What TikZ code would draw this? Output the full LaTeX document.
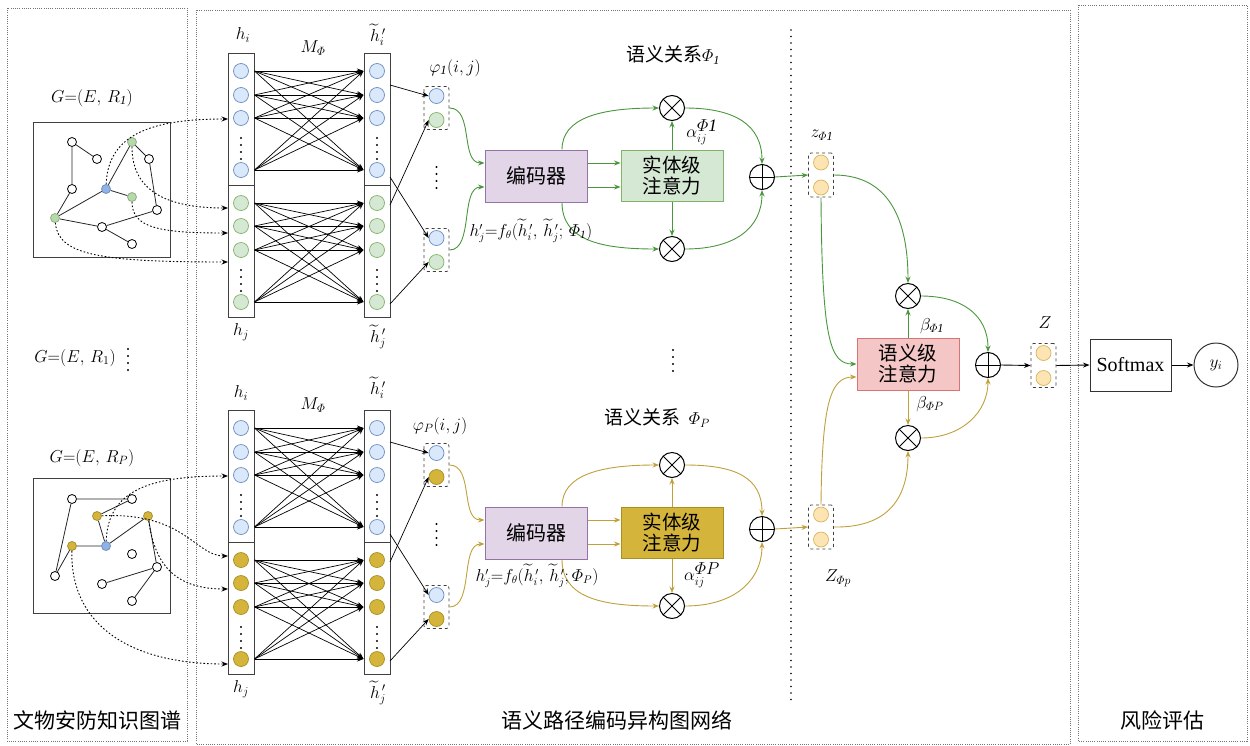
\documentclass[tikz,border=0pt]{standalone}
\usepackage{amsmath}
\usepackage{fontspec}
\setmainfont{Liberation Serif}
\newfontfamily\cjk{Noto Sans CJK SC}
\usetikzlibrary{arrows.meta}
\definecolor{bluF}{HTML}{DAE8FC}
\definecolor{bluB}{HTML}{6C8EBF}
\definecolor{grnF}{HTML}{D5E8D4}
\definecolor{grnB}{HTML}{82B366}
\definecolor{gldF}{HTML}{D4B43A}
\definecolor{gldB}{HTML}{A89020}
\definecolor{grnL}{HTML}{4A963C}
\definecolor{gldL}{HTML}{C0A03A}
\definecolor{ylwF}{HTML}{FCE4B4}
\definecolor{ylwB}{HTML}{D6B656}
\definecolor{purF}{HTML}{E1D5E7}
\definecolor{purB}{HTML}{9673A6}
\definecolor{pnkF}{HTML}{F4C6C6}
\definecolor{pnkB}{HTML}{D97474}
\definecolor{gBlu}{HTML}{8FB3E8}
\definecolor{gGrn}{HTML}{B5D9A8}
\definecolor{gGld}{HTML}{D4B43A}
\tikzset{
  panel/.style={draw=black!55, line width=0.9pt, dash pattern=on 0.9pt off 1.3pt},
  sepdots/.style={line width=1.6pt, dash pattern=on 0pt off 6.5pt, line cap=round},
  circ/.style={circle, minimum size=15pt, inner sep=0pt, line width=0.7pt},
  bnode/.style={circ, fill=bluF, draw=bluB},
  ycirc/.style={circ, fill=ylwF, draw=ylwB},
  colbox/.style={draw=black!75, line width=1pt, minimum width=26pt, inner sep=0pt},
  tip/.style={-{Stealth[length=6.5pt,width=5pt]}},
  narrow/.style={tip, line width=0.7pt},
  darrow/.style={tip, line width=0.9pt, dash pattern=on 1.6pt off 2pt},
  pbox/.style={draw=black!75, dashed, rounded corners=2.5pt, minimum width=25pt, minimum height=43pt, inner sep=0pt, line width=0.8pt},
  gnode/.style={circle, draw=black, line width=0.8pt, minimum size=9pt, inner sep=0pt, fill=white},
  gb/.style={gnode, fill=gBlu, draw=gBlu!80!black},
  gg/.style={gnode, fill=gGrn, draw=gGrn!80!black},
  gy/.style={gnode, fill=gGld, draw=gGld!80!black},
  gedge/.style={line width=0.8pt, draw=black!85},
  gbox/.style={draw=black!75, line width=1pt, minimum width=137pt, minimum height=135pt, inner sep=0pt},
  encbox/.style={draw=purB, fill=purF, line width=1pt, minimum width=102pt, minimum height=52pt, inner sep=0pt, font=\fontsize{20}{22}\cjk},
  attbox/.style={line width=1pt, minimum width=102pt, minimum height=51pt, inner sep=0pt, align=center, font=\fontsize{19.5}{21}\cjk},
  otimes/.style={circle, draw, minimum size=25pt, inner sep=0pt, line width=1pt,
    path picture={\draw[line width=1pt] (path picture bounding box.north east)--(path picture bounding box.south west) (path picture bounding box.north west)--(path picture bounding box.south east);}},
  oplus/.style={circle, draw, minimum size=25pt, inner sep=0pt, line width=1pt,
    path picture={\draw[line width=1pt] (path picture bounding box.north)--(path picture bounding box.south) (path picture bounding box.west)--(path picture bounding box.east);}},
  mlab/.style={font=\fontsize{18}{20}\selectfont, inner sep=0pt},
  slab/.style={font=\fontsize{17.5}{20}\selectfont, inner sep=0pt},
  clab/.style={font=\fontsize{21}{24}\cjk, inner sep=0pt},
}
\begin{document}
\begin{tikzpicture}[x=1pt,y=-1pt]
\useasboundingbox (0,0) rectangle (1250,745);
% panels
\draw[panel] (7,8) rectangle (187,741);
\draw[panel] (196,10) rectangle (1070,744);
\draw[panel] (1078,5) rectangle (1247,741);
\draw[sepdots] (791,30) -- (791,705);
\node[clab] (t1) at (97,720) {文物安防知识图谱};
\node[clab] (t2) at (617,720) {语义路径编码异构图网络};
\node[clab] (t3) at (1162,720) {风险评估};

% ---------- graphs ----------
\node[gbox] (G1) at (101.5,189.5) {};
\node[gbox] (G2) at (101.5,545.5) {};
\node[slab] (gl1) at (92,98) {$G{=}(E,\,R_{\mathit{1}})$};
\node[slab] (gl2) at (75,358) {$G{=}(E,\,R_{1})$};
\foreach \yy in {349,356,363,370}{\fill (128,\yy) circle (1.1pt);}
\node[slab] (gl3) at (92,458) {$G{=}(E,\,R_{P})$};

\node[gnode] (g1) at (72,142) {};
\node[gnode] (g2) at (97,159) {};
\node[gnode] (g3) at (72,189) {};
\node[gb] (g4) at (106,189) {};
\node[gg] (g5) at (132,142) {};
\node[gnode] (g6) at (149,159) {};
\node[gg] (g7) at (132,197) {};
\node[gnode] (g8) at (157,210) {};
\node[gg] (g9) at (55,218) {};
\node[gnode] (g10) at (102,227) {};
\node[gnode] (g11) at (132,244) {};
\draw[gedge] (g1)--(g2) (g1)--(g3) (g3)--(g9) (g9)--(g4) (g4)--(g5) (g4)--(g7) (g5)--(g6) (g6)--(g8) (g8)--(g10) (g9)--(g10) (g10)--(g11);

\node[gnode] (k1) at (72,499) {};
\node[gnode] (k2) at (132,499) {};
\node[gy] (k3) at (97,516) {};
\node[gy] (k4) at (148,516) {};
\node[gy] (k5) at (72,546) {};
\node[gb] (k6) at (106,546) {};
\node[gnode] (k7) at (132,554) {};
\node[gnode] (k8) at (157,567) {};
\node[gnode] (k9) at (55,576) {};
\node[gnode] (k10) at (102,584) {};
\node[gnode] (k11) at (132,601) {};
\draw[gedge] (k1)--(k2) (k1)--(k9) (k9)--(k5) (k5)--(k6) (k6)--(k3) (k3)--(k2) (k6)--(k4) (k4)--(k8) (k8)--(k10) (k8)--(k11);

\coordinate (in1) at (228,119);
\coordinate (in2) at (228,208);
\coordinate (in3) at (228,233);
\coordinate (in4) at (228,262);
\coordinate (in5) at (228,476);
\coordinate (in6) at (228,556);
\coordinate (in7) at (228,589);
\coordinate (in8) at (228,664);
\draw[darrow] (g4) .. controls (108,135) and (150,119) .. (in1);
\draw[darrow] (g5) .. controls (132,190) and (165,208) .. (in2);
\draw[darrow] (g7) .. controls (132,228) and (160,233) .. (in3);
\draw[darrow] (g9) .. controls (58,255) and (100,262) .. (in4);
\draw[darrow] (k6) .. controls (108,490) and (150,476) .. (in5);
\draw[darrow] (k3) .. controls (185,512) and (195,556) .. (in6);
\draw[darrow] (k4) .. controls (155,565) and (175,589) .. (in7);
\draw[darrow] (k5) .. controls (70,625) and (130,664) .. (in8);

% ---------- stacks and encoder blocks ----------
\foreach \s/\off/\offb/\fc/\bc/\lc in {1/0/0/grnF/grnB/grnL, 2/357/352/gldF/gldB/gldL}{
  \node[colbox, minimum height=132pt] (LT\s) at (241,{119+\off}) {};
  \node[colbox, minimum height=132pt] (LB\s) at (241,{251+\off}) {};
  \node[colbox, minimum height=132pt] (RT\s) at (377,{119+\off}) {};
  \node[colbox, minimum height=132pt] (RB\s) at (377,{251+\off}) {};
  \foreach \k/\yy in {1/71,2/95,3/118,4/170}{
    \node[bnode] (La\s\k) at (241,{\yy+\off}) {};
    \node[bnode] (Ra\s\k) at (377,{\yy+\off}) {};
  }
  \foreach \k/\yy in {1/203,2/226,3/250,4/302}{
    \node[circ, fill=\fc, draw=\bc] (Lb\s\k) at (241,{\yy+\off}) {};
    \node[circ, fill=\fc, draw=\bc] (Rb\s\k) at (377,{\yy+\off}) {};
  }
  \foreach \yy in {138,145,152,159,270,277,284,291}{
    \fill (241,{\yy+\off}) circle (1.1pt);
    \fill (377,{\yy+\off}) circle (1.1pt);
  }
  \foreach \i in {1,...,4}{\foreach \j in {1,...,4}{
    \draw[narrow] (La\s\i -| LT\s.east) -- (Ra\s\j -| RT\s.west);
    \draw[narrow] (Lb\s\i -| LB\s.east) -- (Rb\s\j -| RB\s.west);
  }}
  % phi boxes
  \node[pbox] (PA\s) at (436.5,{108+\off}) {};
  \node[bnode] (PAb\s) at (436.5,{96+\off}) {};
  \node[circ, fill=\fc, draw=\bc] (PAc\s) at (436.5,{120+\off}) {};
  \node[pbox] (PB\s) at (436.5,{250+\off}) {};
  \node[bnode] (PBb\s) at (436.5,{238+\off}) {};
  \node[circ, fill=\fc, draw=\bc] (PBc\s) at (436.5,{262+\off}) {};
  \foreach \yy in {167,174,181,188}{\fill (436.5,{\yy+\off}) circle (1.1pt);}
  \coordinate (oa\s) at (390,{85+\off});
  \coordinate (ob\s) at (390,{177+\off});
  \coordinate (oc\s) at (390,{205+\off});
  \coordinate (od\s) at (390,{304+\off});
  \draw[narrow] (oa\s) -- (PAb\s.west);
  \draw[narrow] (ob\s) -- (PBb\s.west);
  \draw[narrow] (oc\s) -- (PAc\s.west);
  \draw[narrow] (od\s) -- (PBc\s.west);
  % encoder block
  \node[encbox] (E\s) at (536,{176+\off}) {编码器};
  \node[attbox, fill=\fc, draw=\bc] (A\s) at (672,{176+\off}) {实体级\\注意力};
  \node[otimes] (X\s) at (672,{108+\off}) {};
  \node[otimes] (Y\s) at (672,{249+\off}) {};
  \node[oplus] (S\s) at (762,{177+\offb}) {};
  \node[pbox, minimum height=44pt] (Z\s) at (821,{175+\offb}) {};
  \node[ycirc] (Za\s) at (821,{162.5+\offb}) {};
  \node[ycirc] (Zb\s) at (821,{187.5+\offb}) {};
  \begin{scope}[tip, draw=\lc, line width=0.9pt]
    \draw (PA\s.east) .. controls (474,{108+\off}) and (460,{163+\off}) .. ([yshift=13pt]E\s.west);
    \draw (PB\s.east) .. controls (474,{250+\off}) and (460,{187+\off}) .. ([yshift=-11pt]E\s.west);
    \draw ([yshift=13pt]E\s.east) -- ([yshift=13pt]A\s.west);
    \draw ([yshift=-11pt]E\s.east) -- ([yshift=-11pt]A\s.west);
    \draw ([xshift=26pt]E\s.north) .. controls (562,{118+\off}) and (600,{108+\off}) .. (X\s.west);
    \draw ([xshift=26pt]E\s.south) .. controls (562,{240+\off}) and (600,{249+\off}) .. (Y\s.west);
    \draw (A\s.north) -- (X\s.south);
    \draw (A\s.south) -- (Y\s.north);
    \draw (X\s.east) .. controls (735,{108+\off}) and (762,{125+\offb}) .. (S\s.north);
    \draw (Y\s.east) .. controls (735,{249+\off}) and (762,{228+\offb}) .. (S\s.south);
    \draw (S\s.east) -- (Z\s.west);
  \end{scope}
}

% stack labels
\node[mlab] (lhi1) at (243,35) {$h_i$};
\node[mlab] (lm1) at (313,48) {$M_{\varPhi}$};
\node[mlab] (lti1) at (378,35) {$\widetilde{h}^{\,\prime}_i$};
\node[mlab] (lhj1) at (241,332) {$h_j$};
\node[mlab] (ltj1) at (378,337) {$\widetilde{h}^{\,\prime}_j$};
\node[mlab] (lphi1) at (455,68) {$\varphi_{\mathit{1}}(i,j)$};
\node[mlab] (lhi2) at (241,393) {$h_i$};
\node[mlab] (lm2) at (313,405) {$M_{\varPhi}$};
\node[mlab] (lti2) at (378,388) {$\widetilde{h}^{\,\prime}_i$};
\node[mlab] (lhj2) at (241,689) {$h_j$};
\node[mlab] (ltj2) at (378,693) {$\widetilde{h}^{\,\prime}_j$};
\node[mlab] (lphi2) at (440,426) {$\varphi_{P}(i,j)$};

% block labels
\node[slab] (rel1) at (673,55) {{\fontsize{19}{20}\cjk 语义关系}$\varPhi_{\mathit{1}}$};
\node[slab] (rel2) at (657,418) {{\fontsize{19}{20}\cjk 语义关系}\ \ $\varPhi_{P}$};
\node[slab] (al1) at (702,132) {$\alpha_{ij}^{\textstyle\varPhi\mathit{1}}$};
\node[slab] (al2) at (702,575) {$\alpha_{ij}^{\textstyle\varPhi P}$};
\node[font=\fontsize{16}{18}\selectfont, inner sep=0pt] (f1) at (531,231) {$h'_j{=}f_\theta(\widetilde{h}^{\,\prime}_i,\,\widetilde{h}^{\,\prime}_j;\,\varPhi_{\mathit{1}})$};
\node[font=\fontsize{16}{18}\selectfont, inner sep=0pt] (f2) at (537,576) {$h'_j{=}f_\theta(\widetilde{h}^{\,\prime}_i,\,\widetilde{h}^{\,\prime}_j;\varPhi_{P})$};
\foreach \yy in {350,357,364,371}{\fill (673,\yy) circle (1.1pt);}
\node[slab] (lz1) at (822,135) {$z_{\varPhi\mathit{1}}$};
\node[slab] (lz2) at (838,578) {$Z_{\varPhi p}$};

% ---------- semantic level ----------
\node[attbox, fill=pnkF, draw=pnkB, minimum height=52pt] (SA) at (908,364) {语义级\\注意力};
\node[otimes] (XA) at (908,296) {};
\node[otimes] (XB) at (908,438) {};
\node[oplus] (S3) at (988,365) {};
\node[pbox, minimum height=44pt] (ZZ) at (1043.5,365.5) {};
\node[ycirc] (ZZa) at (1043.5,353) {};
\node[ycirc] (ZZb) at (1043.5,378) {};
\node[draw=black!80, line width=1pt, minimum width=81pt, minimum height=52pt, inner sep=0pt, font=\fontsize{20}{24}\selectfont] (SM) at (1130.5,365) {Softmax};
\node[circle, draw=black!80, line width=1pt, minimum size=44pt, inner sep=0pt, font=\fontsize{18}{20}\selectfont] (YI) at (1216,365) {$y_i$};
\node[slab] (lb1) at (932,326) {$\beta_{\varPhi\mathit{1}}$};
\node[slab] (lb2) at (930,404) {$\beta_{\varPhi P}$};
\node[slab] (lZ) at (1045,323) {$Z$};

\begin{scope}[tip, draw=grnL, line width=0.9pt]
  \draw (Z1.east) .. controls (895,175) and (908,230) .. (XA.north);
  \draw (Z1.south) .. controls (822,340) and (830,364) .. (SA.west);
  \draw (SA.north) -- (XA.south);
  \draw (XA.east) .. controls (962,296) and (988,315) .. (S3.north);
\end{scope}
\begin{scope}[tip, draw=gldL, line width=0.9pt]
  \draw (Z2.north) .. controls (822,405) and (830,377) .. ([yshift=-13pt]SA.west);
  \draw (Z2.east) .. controls (895,528) and (908,490) .. (XB.south);
  \draw (SA.south) -- (XB.north);
  \draw (XB.east) .. controls (962,438) and (988,412) .. (S3.south);
\end{scope}
\draw[narrow, line width=0.9pt] (S3.east) -- (ZZ.west);
\draw[narrow, line width=0.9pt] (ZZ.east) -- (SM.west);
\draw[narrow, line width=0.9pt] (SM.east) -- (YI.west);
\end{tikzpicture}
\end{document}
